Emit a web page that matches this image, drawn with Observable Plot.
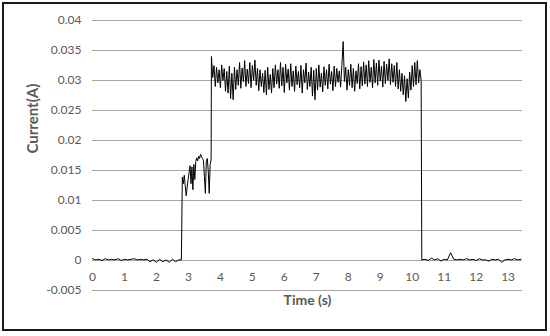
<!DOCTYPE html>
<html><head><meta charset="utf-8">
<script src="https://cdn.jsdelivr.net/npm/d3@7"></script>
<script src="https://cdn.jsdelivr.net/npm/@observablehq/plot@0.6"></script>
<style>
body{margin:0;background:#fff;}
#wrap{position:relative;width:550px;height:336px;overflow:hidden;}
#border{position:absolute;left:2px;top:2px;width:541px;height:325px;border:2px solid #1a1a1a;pointer-events:none;}
</style></head><body><div id="wrap"><div id="border"></div></div>
<script>
// Tick labels
const xTicks = [0, 1, 2, 3, 4, 5, 6, 7, 8, 9, 10, 11, 12, 13];
const yTicks = [-0.005, 0, 0.005, 0.01, 0.015, 0.02, 0.025, 0.03, 0.035, 0.04];

// Segment 1: idle before switching on (t = 0 .. 2.7 s, every 0.1 s)
const idleBeforeStart = 0, idleBeforeStep = 0.1;
const idleBeforeCurrent = [0.0003, 0.0001, 0.0002, 0.0000, 0.0003, 0.0001, 0.0002, 0.0001, 0.0003, 0.0000,
  0.0002, 0.0001, 0.0002, 0.0003, 0.0001, 0.0002, 0.0001, 0.0002, -0.0002, 0.0001,
  -0.0003, 0.0002, -0.0002, 0.0001, -0.0003, 0.0002, -0.0002, 0.0001];

// Segment 2: first stage (t = 2.78 .. 3.71 s, every 0.03 s)
const rampStart = 2.78, rampStep = 0.03;
const rampCurrent = [0.0001, 0.0139, 0.0128, 0.0142, 0.0125, 0.0108, 0.0122, 0.0135, 0.0146, 0.0158,
  0.0128, 0.0156, 0.0118, 0.0160, 0.0135, 0.0165, 0.0171, 0.0166, 0.0174, 0.0170,
  0.0177, 0.0173, 0.0170, 0.0167, 0.0140, 0.0112, 0.0165, 0.0170, 0.0150, 0.0112,
  0.0160, 0.0168];

// Segment 3: full current (t = 3.72 .. 10.28 s, every 0.04 s)
const plateauStart = 3.72, plateauStep = 0.04;
const plateauCurrent = [
  0.0340, 0.0305, 0.0325, 0.0290, 0.0322, 0.0296, 0.0318, 0.0288, 0.0326, 0.0300,
  0.0320, 0.0282, 0.0315, 0.0279, 0.0324, 0.0270, 0.0312, 0.0268, 0.0322, 0.0285,
  0.0318, 0.0292, 0.0330, 0.0287, 0.0321, 0.0298, 0.0333, 0.0290, 0.0319, 0.0295,
  0.0330, 0.0288, 0.0325, 0.0300, 0.0334, 0.0292, 0.0320, 0.0283, 0.0318, 0.0290,
  0.0312, 0.0280, 0.0317, 0.0276, 0.0322, 0.0285, 0.0310, 0.0279, 0.0320, 0.0288,
  0.0326, 0.0294, 0.0318, 0.0287, 0.0330, 0.0291, 0.0322, 0.0280, 0.0327, 0.0296,
  0.0319, 0.0284, 0.0328, 0.0290, 0.0316, 0.0282, 0.0324, 0.0293, 0.0315, 0.0288,
  0.0325, 0.0279, 0.0318, 0.0296, 0.0329, 0.0285, 0.0314, 0.0290, 0.0322, 0.0274,
  0.0317, 0.0268, 0.0320, 0.0284, 0.0326, 0.0289, 0.0312, 0.0281, 0.0323, 0.0292,
  0.0318, 0.0286, 0.0327, 0.0294, 0.0315, 0.0283, 0.0324, 0.0290, 0.0320, 0.0297,
  0.0316, 0.0289, 0.0325, 0.0365, 0.0298, 0.0322, 0.0284, 0.0318, 0.0292, 0.0327,
  0.0288, 0.0320, 0.0282, 0.0316, 0.0295, 0.0328, 0.0286, 0.0323, 0.0291, 0.0331,
  0.0294, 0.0326, 0.0290, 0.0333, 0.0297, 0.0322, 0.0288, 0.0335, 0.0296, 0.0329,
  0.0292, 0.0334, 0.0299, 0.0324, 0.0289, 0.0332, 0.0295, 0.0327, 0.0300, 0.0336,
  0.0293, 0.0328, 0.0297, 0.0325, 0.0290, 0.0330, 0.0286, 0.0318, 0.0282, 0.0312,
  0.0276, 0.0308, 0.0265, 0.0303, 0.0271, 0.0314, 0.0284, 0.0325, 0.0290, 0.0330,
  0.0293, 0.0333, 0.0296, 0.0318, 0.0300];

// Segment 4: idle after switching off (t = 10.3 .. 13.4 s, every 0.1 s)
const idleAfterStart = 10.3, idleAfterStep = 0.1;
const idleAfterCurrent = [0.0001, 0.0002, 0.0000, 0.0004, 0.0001, 0.0003, -0.0001, 0.0002, 0.0001, 0.0013,
  0.0002, 0.0001, 0.0002, 0.0001, 0.0003, 0.0001, 0.0002, 0.0000, 0.0003, 0.0001,
  0.0001, -0.0001, 0.0002, 0.0001, 0.0002, -0.0003, 0.0001, 0.0002, 0.0001, 0.0003,
  0.0001, 0.0002];

const data = [];
function addSegment(start, step, values) {
  values.forEach((v, i) => data.push({t: +(start + i * step).toFixed(3), current: v}));
}
addSegment(idleBeforeStart, idleBeforeStep, idleBeforeCurrent);
addSegment(rampStart, rampStep, rampCurrent);
addSegment(plateauStart, plateauStep, plateauCurrent);
addSegment(idleAfterStart, idleAfterStep, idleAfterCurrent);

const grey = "#595959";
const chart = Plot.plot({
  width: 550, height: 336,
  marginLeft: 92, marginRight: 28, marginTop: 20, marginBottom: 46,
  style: {fontFamily: "Lato, 'Open Sans', sans-serif", fontSize: "12px", color: grey, background: "transparent"},
  x: {domain: [0, 13.45], axis: null},
  y: {domain: [-0.005, 0.04]},
  marks: [
    Plot.ruleY(yTicks, {stroke: "#a6a6a6", strokeWidth: 1}),
    Plot.axisY(yTicks, {tickSize: 0, tickPadding: 11, tickFormat: d => String(d), label: null, fill: grey}),
    Plot.text(xTicks, {x: d => d, y: 0, dy: 17, text: d => String(d), fill: grey}),
    Plot.lineY(data, {x: "t", y: "current", stroke: "#000", strokeWidth: 1}),
    Plot.text(["Current(A)"], {frameAnchor: "left", dx: -59, dy: -2, rotate: -90, fontWeight: "bold", fontSize: 15, fill: grey}),
    Plot.text(["Time (s)"], {frameAnchor: "bottom", dy: 14, fontWeight: "bold", fontSize: 14, fill: grey})
  ]
});
document.getElementById("wrap").prepend(chart);
</script>
</body></html>
